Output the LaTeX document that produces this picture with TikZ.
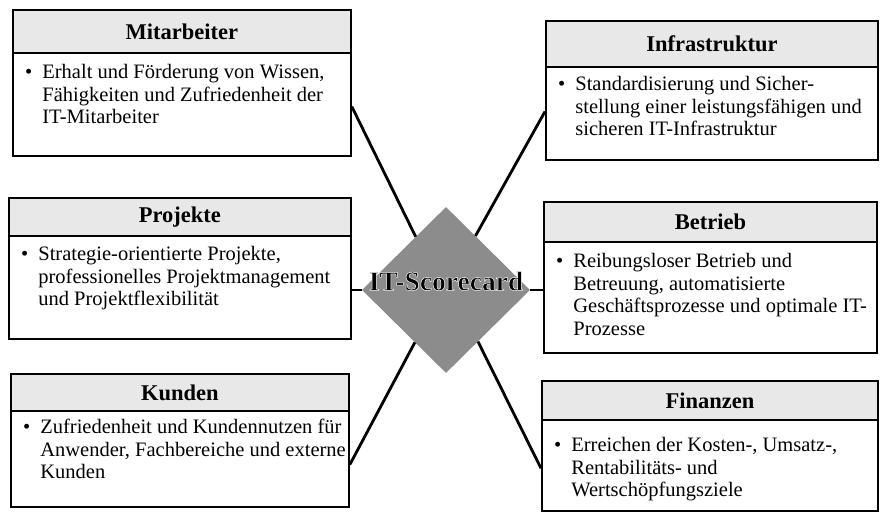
\documentclass[tikz,border=0pt]{standalone}
\usepackage{fontspec}
\setmainfont{Liberation Serif}
\usetikzlibrary{shapes.geometric,calc}
\tikzset{
 frame/.style={draw=black, line width=1.8pt, fill=white, inner sep=0pt, anchor=north west},
 head/.style={draw=black, line width=1.8pt, fill=black!9, inner sep=0pt, anchor=north west, font=\fontsize{22.5}{24}\selectfont\bfseries},
 body/.style={inner sep=0pt, anchor=north west, font=\fontsize{20.5}{22.5}\selectfont},
 link/.style={line width=2.8pt},
 core/.style={diamond, fill=black!45, inner sep=0pt, minimum width=168pt, minimum height=166pt},
 corelabel/.style={inner sep=0pt, font=\fontsize{27.5}{30}\selectfont\bfseries},
}
\newcommand\bul{\textbullet}
\newcommand\haloed[1]{\special{pdf:literal direct 2 Tr 0 0 0 rg 1 1 1 RG 0.5 w}#1\special{pdf:literal direct 0 Tr 0 0 0 RG 0.4 w}}
\begin{document}
\begin{tikzpicture}[x=1pt,y=-1pt]
\useasboundingbox (0,0) rectangle (880,516);
\fill[white] (0,0) rectangle (880,516);

% Mitarbeiter
\node[frame, minimum width=338pt, minimum height=146pt] (mit) at (12,9) {};
\node[head, minimum width=338pt, minimum height=43pt] (mith) at (mit.north west) {Mitarbeiter};
\node[body] (mitb) at (25,63) {\begin{tabular}{@{}l@{\hspace{10pt}}l@{}}\bul & Erhalt und Förderung von Wissen,\\ & Fähigkeiten und Zufriedenheit der\\ & IT-Mitarbeiter\end{tabular}};

% Infrastruktur
\node[frame, minimum width=332pt, minimum height=139pt] (inf) at (545,20) {};
\node[head, minimum width=332pt, minimum height=46pt] (infh) at (inf.north west) {Infrastruktur};
\node[body] (infb) at (558,75) {\begin{tabular}{@{}l@{\hspace{10pt}}l@{}}\bul & Standardisierung und Sicher-\\ & stellung einer leistungsfähigen und\\ & sicheren IT-Infrastruktur\end{tabular}};

% Projekte
\node[frame, minimum width=342pt, minimum height=141pt] (pro) at (8,197) {};
\node[head, minimum width=342pt, minimum height=38pt] (proh) at (pro.north west) {Projekte};
\node[body] (prob) at (21,245) {\begin{tabular}{@{}l@{\hspace{10pt}}l@{}}\bul & Strategie-orientierte Projekte,\\ & professionelles Projektmanagement\\ & und Projektflexibilität\end{tabular}};

% Betrieb
\node[frame, minimum width=333pt, minimum height=151pt] (bet) at (543,201) {};
\node[head, minimum width=333pt, minimum height=40pt] (beth) at (bet.north west) {Betrieb};
\node[body] (betb) at (556,252) {\begin{tabular}{@{}l@{\hspace{10pt}}l@{}}\bul & Reibungsloser Betrieb und\\ & Betreuung, automatisierte\\ & Geschäftsprozesse und optimale IT-\\ & Prozesse\end{tabular}};

% Kunden
\node[frame, minimum width=338pt, minimum height=133pt] (kun) at (10,373) {};
\node[head, minimum width=338pt, minimum height=37pt] (kunh) at (kun.north west) {Kunden};
\node[body] (kunb) at (23,418) {\begin{tabular}{@{}l@{\hspace{10pt}}l@{}}\bul & Zufriedenheit und Kundennutzen für\\ & Anwender, Fachbereiche und externe\\ & Kunden\end{tabular}};

% Finanzen
\node[frame, minimum width=336pt, minimum height=130pt] (fin) at (541,380) {};
\node[head, minimum width=336pt, minimum height=39pt] (finh) at (fin.north west) {Finanzen};
\node[body] (finb) at (554,436) {\begin{tabular}{@{}l@{\hspace{10pt}}l@{}}\bul & Erreichen der Kosten-, Umsatz-,\\ & Rentabilitäts- und\\ & Wertschöpfungsziele\end{tabular}};

% centre
\node[core] (sc) at (446,290) {};

% connectors
\draw[link] ($(mit.north east)!0.66!(mit.south east)$) -- ($(sc.west)!0.64!(sc.north)$);
\draw[link] ($(inf.north west)!0.65!(inf.south west)$) -- ($(sc.east)!0.65!(sc.north)$);
\draw[link] (sc.west) -- (sc.west -| pro.east);
\draw[link] (sc.east) -- (sc.east -| bet.west);
\draw[link] ($(kun.north east)!0.68!(kun.south east)$) -- ($(sc.west)!0.63!(sc.south)$);
\draw[link] ($(fin.north west)!0.67!(fin.south west)$) -- ($(sc.east)!0.62!(sc.south)$);

\node[corelabel] (scl) at (446,281) {\haloed{IT-Scorecard}};
\end{tikzpicture}
\end{document}
